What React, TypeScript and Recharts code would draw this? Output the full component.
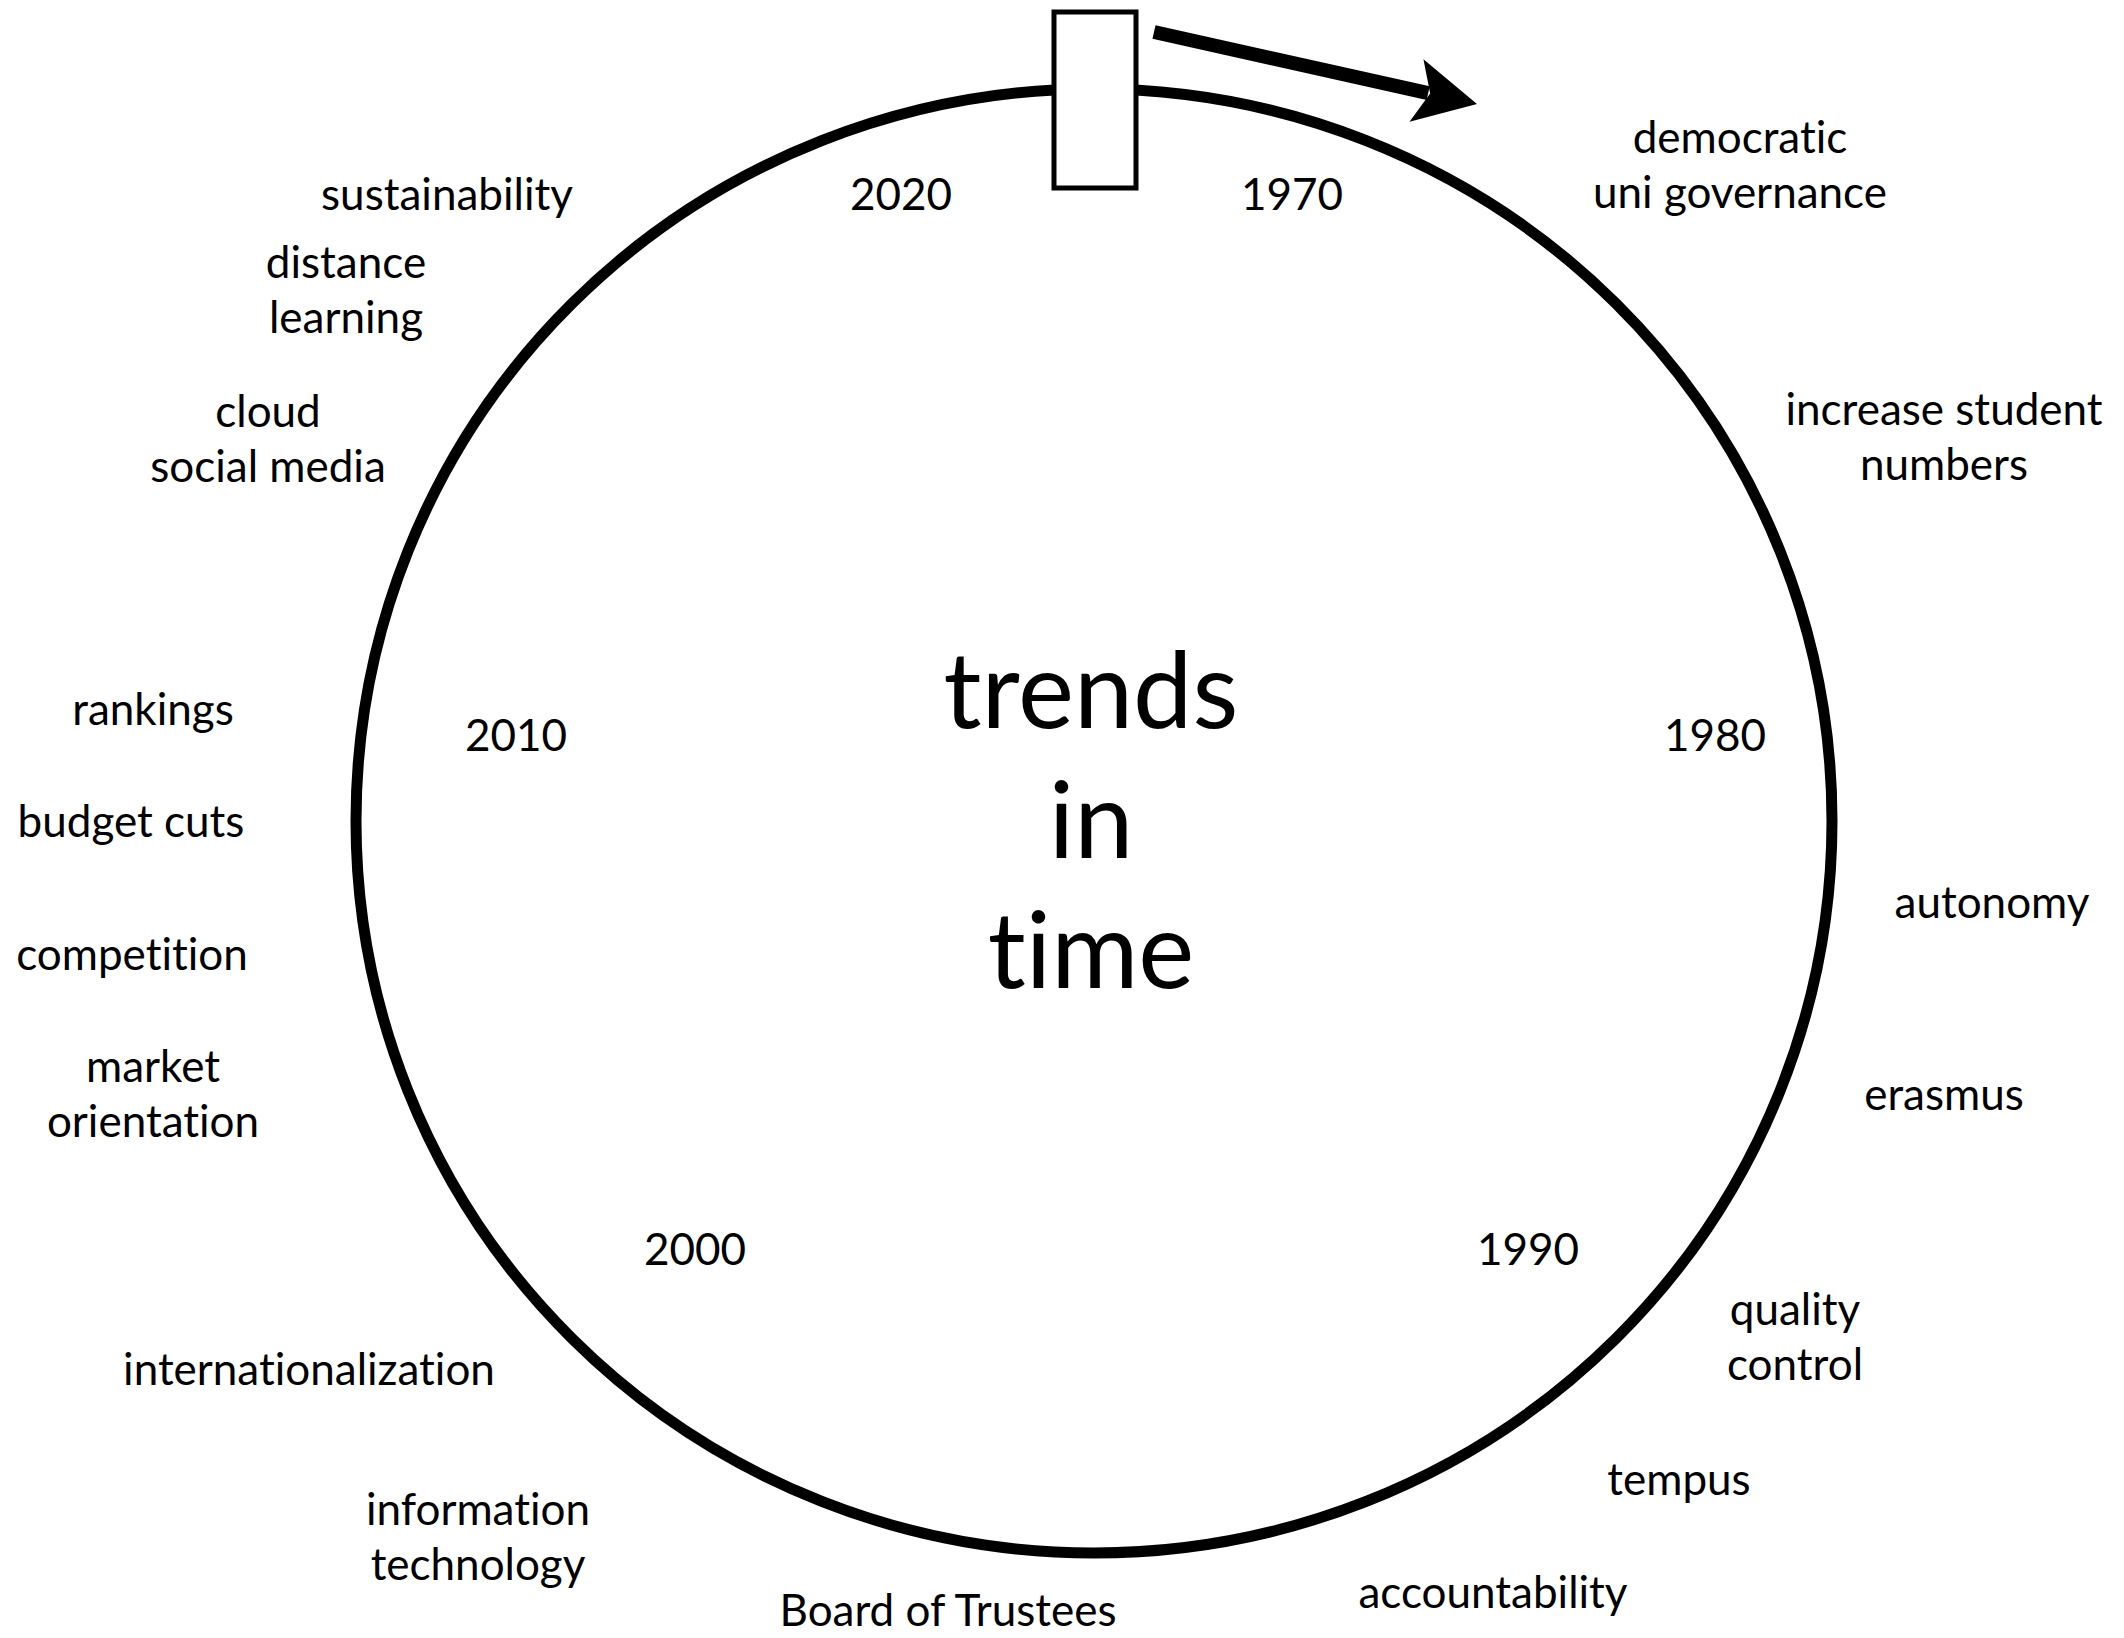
import {
  ComposedChart,
  XAxis,
  YAxis,
  Scatter,
  ReferenceArea,
  ReferenceLine,
} from "recharts";

const W = 2124;
const H = 1638;

// decade markers inside the ring
const yearLabels = ["1970", "1980", "1990", "2000", "2010", "2020"];
const yearX = [1292, 1715, 1528, 695, 516, 901];
const yearY = [210, 751, 1265, 1265, 751, 210];

// trends written around the ring (y = baseline of first line)
const trendLabels = [
  ["democratic", "uni governance"],
  ["increase student", "numbers"],
  ["autonomy"],
  ["erasmus"],
  ["quality", "control"],
  ["tempus"],
  ["accountability"],
  ["Board of Trustees"],
  ["information", "technology"],
  ["internationalization"],
  ["market", "orientation"],
  ["competition"],
  ["budget cuts"],
  ["rankings"],
  ["cloud", "social media"],
  ["distance", "learning"],
  ["sustainability"],
];
const trendX = [1740, 1944, 1992, 1944, 1795, 1679, 1493, 948, 478, 309, 153, 132, 131, 153, 268, 346, 447];
const trendY = [153, 425, 918, 1110, 1325, 1495, 1608, 1626, 1525, 1385, 1082, 970, 837, 725, 427, 278, 210];

const titleLines = ["trends", "in", "time"];
const titleX = 1091;
const titleY = 728;

// ring, slider box and arrow, in chart units (1 unit = 1px)
const ring = { x1: 356, x2: 1832, y1: 89, y2: 1553 };
const box = { x1: 1054, x2: 1136, y1: 12, y2: 188 };
const arrowFrom = { x: 1154, y: 32 };
const arrowTo = { x: 1477, y: 104 };

const FONT = "Lato, 'Open Sans', sans-serif";

type LabelPoint = { x: number; y: number; lines: string[] };

const yearData: LabelPoint[] = yearLabels.map((t, i) => ({ x: yearX[i], y: yearY[i], lines: [t] }));
const trendData: LabelPoint[] = trendLabels.map((lines, i) => ({ x: trendX[i], y: trendY[i], lines }));
const titleData: LabelPoint[] = [{ x: titleX, y: titleY, lines: titleLines }];

function makeLabel(fontSize: number, lineGap: number) {
  return function LabelShape(props: any) {
    const { cx, cy, payload } = props;
    const lines: string[] = payload?.lines ?? [];
    return (
      <text
        x={cx}
        y={cy}
        textAnchor="middle"
        fontFamily={FONT}
        fontSize={fontSize}
        fill="#000"
        style={{ fontVariantLigatures: "none" }}
      >
        {lines.map((l, i) => (
          <tspan key={i} x={cx} dy={i === 0 ? 0 : lineGap}>
            {l}
          </tspan>
        ))}
      </text>
    );
  };
}

// ellipse inscribed in the reference area's box
function RingShape(props: any) {
  const { x, y, width, height } = props;
  return (
    <ellipse
      cx={x + width / 2}
      cy={y + height / 2}
      rx={width / 2}
      ry={height / 2}
      fill="none"
      stroke="#000"
      strokeWidth={11}
    />
  );
}

function BoxShape(props: any) {
  const { x, y, width, height } = props;
  return <rect x={x} y={y} width={width} height={height} fill="#fff" stroke="#000" strokeWidth={5} />;
}

function ArrowShape(props: any) {
  const { x1, y1, x2, y2 } = props;
  const dx = x2 - x1;
  const dy = y2 - y1;
  const len = Math.hypot(dx, dy) || 1;
  const ux = dx / len;
  const uy = dy / len;
  const nx = -uy;
  const ny = ux;
  const headLen = 62;
  const halfW = 32;
  const notch = 48;
  const sx = x2 - ux * (notch + 2);
  const sy = y2 - uy * (notch + 2);
  const bx = x2 - ux * headLen;
  const by = y2 - uy * headLen;
  const pts = [
    [x2, y2],
    [bx - nx * halfW, by - ny * halfW],
    [x2 - ux * notch, y2 - uy * notch],
    [bx + nx * halfW, by + ny * halfW],
  ]
    .map((p) => p.join(","))
    .join(" ");
  return (
    <g>
      <line x1={x1} y1={y1} x2={sx} y2={sy} stroke="#000" strokeWidth={14} />
      <polygon points={pts} fill="#000" />
    </g>
  );
}

export default function App() {
  return (
    <div style={{ position: "absolute", left: 0, top: 0, width: W, height: H, background: "#fff" }}>
      <ComposedChart width={W} height={H} margin={{ top: 0, right: 0, bottom: 0, left: 0 }}>
        <XAxis type="number" dataKey="x" domain={[0, W]} allowDataOverflow hide />
        <YAxis type="number" dataKey="y" domain={[0, H]} allowDataOverflow reversed hide />

        <ReferenceArea x1={ring.x1} x2={ring.x2} y1={ring.y1} y2={ring.y2} shape={RingShape} />
        <ReferenceArea x1={box.x1} x2={box.x2} y1={box.y1} y2={box.y2} shape={BoxShape} />
        <ReferenceLine segment={[arrowFrom, arrowTo]} stroke="#000" shape={ArrowShape} />

        <Scatter data={trendData} shape={makeLabel(44, 55)} isAnimationActive={false} />
        <Scatter data={yearData} shape={makeLabel(44, 55)} isAnimationActive={false} />
        <Scatter data={titleData} shape={makeLabel(106, 130)} isAnimationActive={false} />
      </ComposedChart>
    </div>
  );
}
